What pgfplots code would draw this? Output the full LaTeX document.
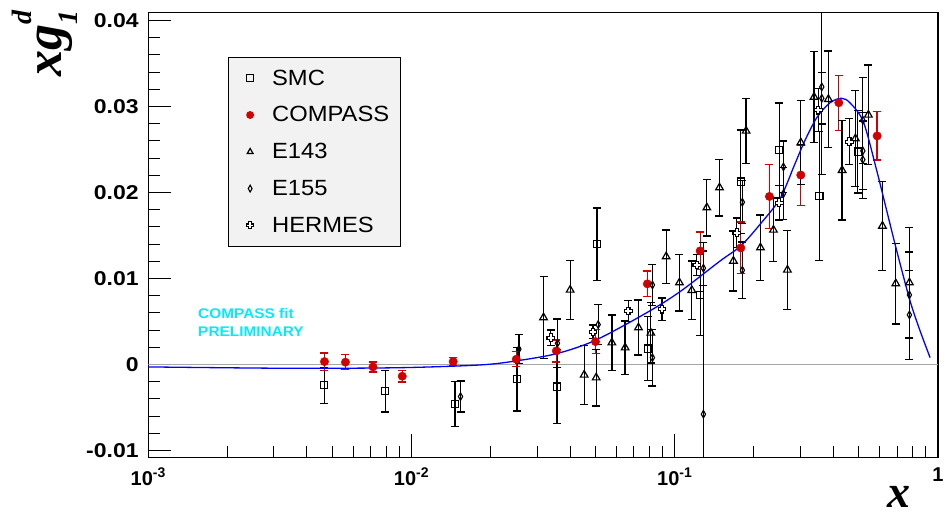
\documentclass[border=0pt]{standalone}
\usepackage{fontspec}
\setmainfont{Liberation Sans}
\newfontfamily\yfont{Liberation Sans}[FakeStretch=1.15]
\newfontfamily\legfont{Liberation Sans}[FakeStretch=1.08]
\newfontfamily\cyfont{Liberation Sans}[FakeStretch=1.1]
\newfontfamily\serfont{Liberation Serif}
\usepackage{pgfplots}
\pgfplotsset{compat=1.18}
\definecolor{rootred}{RGB}{210,0,0}
\definecolor{legfill}{RGB}{242,242,242}
\definecolor{rootcyan}{RGB}{0,235,255}
\newcommand\tickx{\fontsize{20bp}{24bp}\selectfont\bfseries}
\newcommand\ticky{\yfont\fontsize{20bp}{24bp}\selectfont\bfseries}
\pgfdeclareplotmark{hplus}{%
 \pgfpathmoveto{\pgfqpoint{-0.4\pgfplotmarksize}{\pgfplotmarksize}}%
 \pgfpathlineto{\pgfqpoint{0.4\pgfplotmarksize}{\pgfplotmarksize}}%
 \pgfpathlineto{\pgfqpoint{0.4\pgfplotmarksize}{0.4\pgfplotmarksize}}%
 \pgfpathlineto{\pgfqpoint{\pgfplotmarksize}{0.4\pgfplotmarksize}}%
 \pgfpathlineto{\pgfqpoint{\pgfplotmarksize}{-0.4\pgfplotmarksize}}%
 \pgfpathlineto{\pgfqpoint{0.4\pgfplotmarksize}{-0.4\pgfplotmarksize}}%
 \pgfpathlineto{\pgfqpoint{0.4\pgfplotmarksize}{-\pgfplotmarksize}}%
 \pgfpathlineto{\pgfqpoint{-0.4\pgfplotmarksize}{-\pgfplotmarksize}}%
 \pgfpathlineto{\pgfqpoint{-0.4\pgfplotmarksize}{-0.4\pgfplotmarksize}}%
 \pgfpathlineto{\pgfqpoint{-\pgfplotmarksize}{-0.4\pgfplotmarksize}}%
 \pgfpathlineto{\pgfqpoint{-\pgfplotmarksize}{0.4\pgfplotmarksize}}%
 \pgfpathlineto{\pgfqpoint{-0.4\pgfplotmarksize}{0.4\pgfplotmarksize}}%
 \pgfpathclose
 \pgfusepathqfillstroke
}
\pgfplotsset{
 dat/.style={only marks,
  error bars/y dir=both, error bars/y explicit,
  error bars/error bar style={line width=1.3bp, #1},
  error bars/error mark=-,
  error bars/error mark options={rotate=90, mark size=4bp, line width=1.3bp, #1}},
}
\begin{document}
\begin{tikzpicture}
\begin{axis}[
  scale only axis, width=789.7bp, height=444.6bp,
  xmode=log, xmin=0.001, xmax=1, ymin=-0.0108, ymax=0.0409,
  scaled y ticks=false,
  axis line style={line width=1.1bp},
  tick pos=left, tick align=inside,
  major tick length=23bp, minor tick length=11.5bp,
  tick style={black, line width=1bp},
  xtick={0.001,0.01,0.1,1},
  xticklabels={{10\textsuperscript{-3}},{10\textsuperscript{-2}},{10\textsuperscript{-1}},{1}},
  minor xtick={0.002,0.003,0.004,0.005,0.006,0.007,0.008,0.009,0.02,0.03,0.04,0.05,0.06,0.07,0.08,0.09,0.2,0.3,0.4,0.5,0.6,0.7,0.8,0.9},
  ytick={-0.01,0,0.01,0.02,0.03,0.04},
  yticklabels={-0.01,0,0.01,0.02,0.03,0.04},
  minor ytick={-0.008,-0.006,-0.004,-0.002,0.002,0.004,0.006,0.008,0.012,0.014,0.016,0.018,0.022,0.024,0.026,0.028,0.032,0.034,0.036,0.038},
  xticklabel style={font=\tickx, inner sep=0pt, anchor=north, yshift=-10.5bp},
  yticklabel style={font=\ticky, inner sep=0pt, anchor=east, xshift=-9.5bp},
  legend style={at={(0.1005,0.901)}, anchor=north west, fill=legfill, draw=black, line width=1bp,
    font=\legfont\fontsize{22bp}{26bp}\selectfont, inner xsep=11bp, inner ysep=12.5bp,
    row sep=20bp, nodes={inner sep=0pt}, cells={anchor=west}},
  legend image code/.code={\draw[#1, draw=none] plot coordinates {(11bp,0bp)}; \path[draw=none] (0bp,0bp) -- (33bp,0bp);},
  legend image post style={mark size=3.4bp},
]
\coordinate (A) at (rel axis cs:0,0);
\coordinate (B) at (rel axis cs:1,1);
\addplot[gray!70, line width=0.8bp, forget plot] coordinates {(0.001,0) (1,0)};

% SMC
\addplot[black, dat=black, mark=square, mark size=3.6bp, mark options={fill=white, draw=black, line width=1.2bp, solid}]
 table[x index=0, y index=1, y error index=2] {
0.00466 -0.00242 0.0021
0.00795 -0.00312 0.0024
0.01462 -0.00459 0.0026
0.02514 -0.00172 0.0037
0.03567 -0.00258 0.0043
0.05059 0.01398 0.0042
0.07901 0.00184 0.0037
0.1249 0.00805 0.0047
0.1782 0.02126 0.0060
0.2498 0.02491 0.0055
0.3544 0.01959 0.0075
0.4959 0.02474 0.0048
};
\addlegendentry{SMC}

% COMPASS
\addplot[rootred, dat=rootred, mark=*, mark size=4.2bp, mark options={fill=rootred, draw=rootred, solid}]
 table[x index=0, y index=1, y error index=2] {
0.00467 0.00033 0.0010
0.00561 0.00026 0.00087
0.00714 -0.00029 0.00058
0.00922 -0.00137 0.00067
0.0144 0.00033 0.00049
0.0250 0.00060 0.00087
0.0355 0.00157 0.00128
0.0500 0.00265 0.0014
0.0787 0.00937 0.00148
0.1249 0.01320 0.0022
0.1782 0.01355 0.0030
0.2289 0.01953 0.0037
0.3012 0.02202 0.0035
0.4200 0.03043 0.0032
0.5873 0.02657 0.0028
};
\addlegendentry{COMPASS}

% E143
\addplot[black, dat=black, mark=triangle, mark size=4.4bp, mark options={fill=white, draw=black, line width=1.2bp, solid}]
 table[x index=0, y index=1, y error index=2] {
0.03173 0.00545 0.0048
0.04006 0.00866 0.0034
0.04528 -0.00122 0.0034
0.05030 -0.00154 0.0033
0.05770 0.00253 0.0032
0.06479 0.00195 0.0031
0.07280 0.00428 0.0032
0.08111 0.00366 0.0035
0.09275 0.01254 0.0031
0.1042 0.00951 0.0033
0.1161 0.00863 0.0034
0.1324 0.01823 0.0033
0.1479 0.02056 0.0033
0.1671 0.01203 0.0035
0.1867 0.02715 0.0038
0.2116 0.01358 0.0038
0.2371 0.01564 0.0037
0.2679 0.01099 0.0046
0.3012 0.02579 0.0049
0.3383 0.03110 0.0053
0.3835 0.03084 0.0056
0.4323 0.02258 0.0058
0.4856 0.02626 0.0056
0.5441 0.02901 0.0058
0.6151 0.01610 0.0052
0.6914 0.00940 0.0047
0.7789 0.00951 0.0064
};
\addlegendentry{E143}

% E155
\addplot[black, dat=black, mark=diamond, mark size=3.8bp, mark options={fill=white, draw=black, line width=1.1bp, solid, xscale=0.75}]
 table[x index=0, y index=1, y error index=2] {
0.01535 -0.00374 0.0018
0.02558 0.00177 0.0017
0.03585 0.00247 0.0028
0.05118 0.00463 0.0023
0.08227 0.00924 0.0024
0.08227 0.00079 0.0033
0.1285 0.01119 0.0020
0.1285 -0.00579 0.0200
0.1807 0.01886 0.0025
0.1807 0.01095 0.0033
0.2587 0.02297 0.0030
0.2587 0.01986 0.0030
0.3619 0.03227 0.0102
0.3619 0.03095 0.0030
0.5182 0.02840 0.0050
0.5182 0.02483 0.0045
0.5182 0.02381 0.0045
0.7789 0.00808 0.0050
0.7789 0.00576 0.0052
};
\addlegendentry{E155}

% HERMES
\addplot[black, dat=black, mark=hplus, mark size=3.8bp, mark options={fill=white, draw=black, line width=1.1bp, solid}]
 table[x index=0, y index=1, y error index=2] {
0.03383 0.00311 0.0009
0.04885 0.00378 0.0008
0.06669 0.00622 0.0012
0.08933 0.00642 0.0013
0.1213 0.01157 0.0012
0.1721 0.01532 0.0017
0.2498 0.01881 0.0020
0.3514 0.02956 0.0025
0.4609 0.02591 0.0027
};
\addlegendentry{HERMES}

% COMPASS fit
\addplot[blue, line width=1.3bp, smooth, no marks, forget plot] coordinates {
(0.001,-0.00029) (0.00346,-0.00045) (0.00906,-0.00038) (0.01824,-0.00006)
(0.02496,0.00041) (0.03567,0.00126) (0.04998,0.00281) (0.07834,0.00602)
(0.1048,0.00847) (0.1487,0.01203) (0.1782,0.01378) (0.2110,0.01630)
(0.2513,0.01930) (0.2858,0.02328) (0.3118,0.02599) (0.3465,0.02870)
(0.3892,0.03044) (0.4299,0.03095) (0.4637,0.03040) (0.5208,0.02820)
(0.5857,0.02250) (0.6390,0.01785) (0.6973,0.01320) (0.7835,0.00738)
(0.8551,0.00390) (0.9333,0.00079)
};

\node[anchor=base west, inner sep=0pt, text=rootcyan, font=\cyfont\bfseries\fontsize{14bp}{17bp}\selectfont] at (rel axis cs:0.063,0.3126) {COMPASS fit};
\node[anchor=base west, inner sep=0pt, text=rootcyan, font=\cyfont\bfseries\fontsize{14bp}{17bp}\selectfont] at (rel axis cs:0.063,0.2713) {PRELIMINARY};
\end{axis}
\node[rotate=90, anchor=base east, inner sep=0pt, font=\serfont\bfseries\itshape\fontsize{52bp}{56bp}\selectfont]
  at ([xshift=-86.3bp, yshift=447.3bp]A)
  {xg\rlap{\raisebox{-16bp}{\fontsize{28bp}{30bp}\selectfont 1}}\raisebox{30bp}{\fontsize{28bp}{30bp}\selectfont d}};
\node[anchor=base west, inner sep=0pt, font=\serfont\bfseries\itshape\fontsize{46bp}{50bp}\selectfont]
  at ([xshift=738.7bp, yshift=-50bp]A) {x};
\pgfresetboundingbox
\path[use as bounding box] ([xshift=-148.3bp, yshift=-58.7bp]A) rectangle ([xshift=7bp, yshift=12.7bp]B);
\end{tikzpicture}
\end{document}
